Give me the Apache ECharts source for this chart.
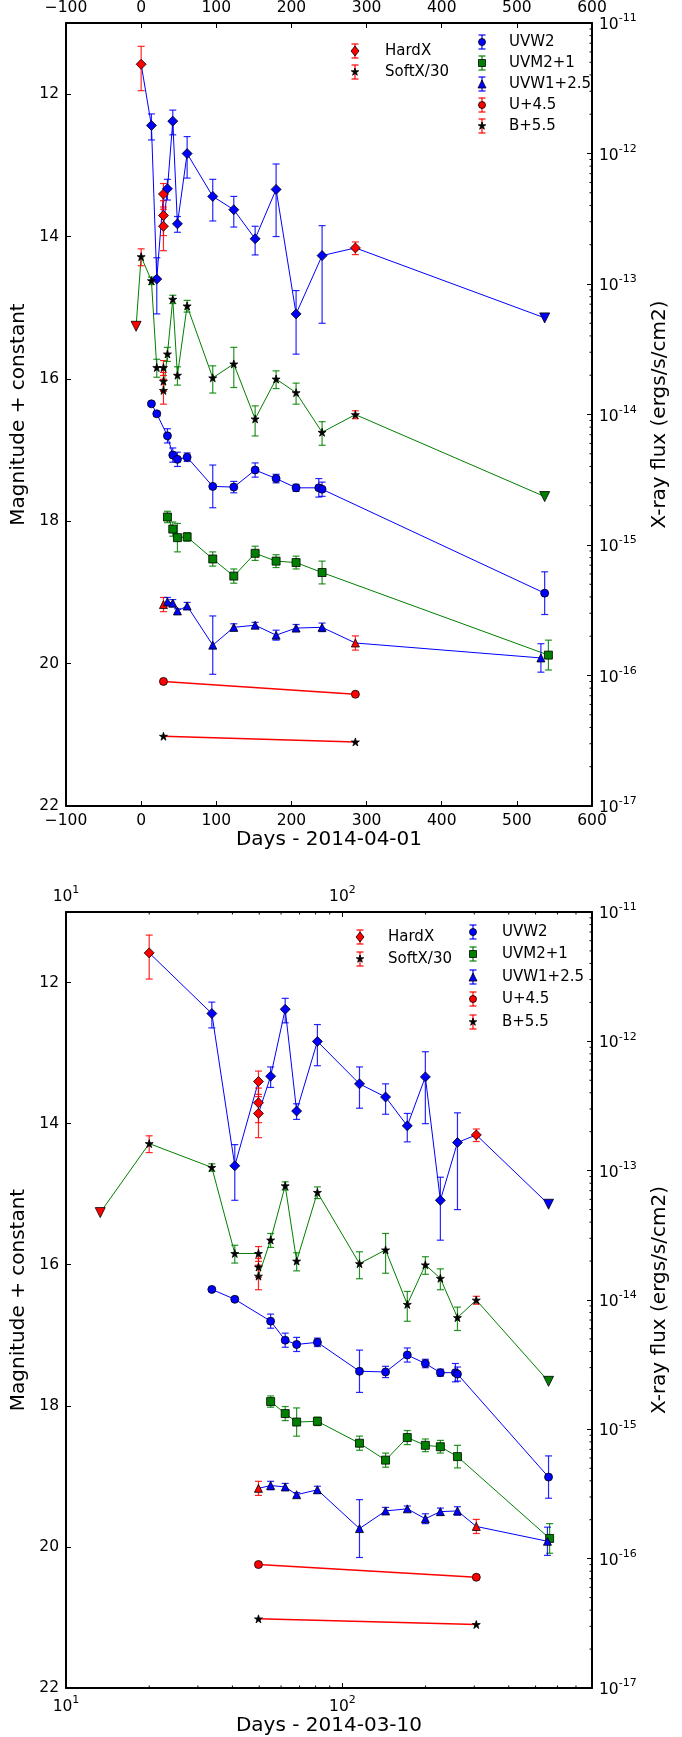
<!DOCTYPE html>
<html lang="en">
<head>
<meta charset="UTF-8">
<title>X-ray / UV light curves</title>
<script src="https://cdn.jsdelivr.net/npm/echarts@6.0.0/dist/echarts.min.js"></script>
<style>html,body{margin:0;padding:0;background:#fff;}</style>
</head>
<body>
<div id="main" style="width:682px;height:1737px;"></div>
<script>
// days are counted from 2014-04-01 (top panel); the lower panel counts from 2014-03-10
const DAY_SHIFT = 20;

// hard band X-ray flux (blue diamond line). H = HardX point, X = other, L = upper limit
const hardDay  = [0, 13.7, 20.8, 29.7, 29.7, 29.7, 35.0, 42.1, 48.3, 61.2, 95.3, 123.3, 151.7, 179.6, 206.2, 240.8, 285.1, 537];
const hardFlux = [4.83e-12, 1.64e-12, 1.09e-13, 4.89e-13, 3.35e-13, 2.77e-13, 5.37e-13, 1.77e-12, 2.89e-13, 9.98e-13, 4.69e-13, 3.71e-13, 2.22e-13, 5.31e-13, 5.9e-14, 1.65e-13, 1.89e-13, 5.5e-14];
const hardErr  = [1.8e-12, 3.7e-13, 5.0e-14, 1.0e-13, 1.0e-13, 9.7e-14, 9.7e-14, 3.8e-13, 4.0e-14, 3.5e-13, 1.65e-13, 9.8e-14, 5.5e-14, 3.0e-13, 3.0e-14, 1.15e-13, 2.1e-14, null];
const hardSrc  = ['H', 'X', 'X', 'H', 'H', 'H', 'X', 'X', 'X', 'X', 'X', 'X', 'X', 'X', 'X', 'X', 'H', 'L'];

// soft band X-ray flux / 30 (green star line). S = SoftX/30 point, R / L = upper limits
const softDay  = [-6.7, 0, 13.7, 20.8, 29.7, 29.7, 29.7, 35.0, 42.1, 48.3, 61.2, 95.3, 123.3, 151.7, 179.6, 206.2, 240.8, 285.1, 537];
const softFlux = [4.74e-14, 1.62e-13, 1.06e-13, 2.29e-14, 2.29e-14, 1.80e-14, 1.53e-14, 2.91e-14, 7.64e-14, 2.0e-14, 6.79e-14, 1.91e-14, 2.44e-14, 9.25e-15, 1.87e-14, 1.47e-14, 7.31e-15, 9.98e-15, 2.35e-15];
const softErr  = [null, 2.4e-14, 7e-15, 3.6e-15, 3.0e-15, 3.0e-15, 3.3e-15, 3.6e-15, 5.6e-15, 3.2e-15, 7e-15, 4.5e-15, 8.3e-15, 2.4e-15, 2.9e-15, 2.7e-15, 1.5e-15, 7e-16, null];
const softSrc  = ['R', 'S', 'X', 'X', 'S', 'S', 'S', 'X', 'X', 'X', 'X', 'X', 'X', 'X', 'X', 'X', 'X', 'S', 'L'];

// UV magnitudes
const uvw2Day = [13.7, 20.8, 35.0, 42.1, 48.3, 61.2, 95.3, 123.3, 151.7, 179.6, 206.2, 236.4, 240.8, 537];
const uvw2Mag = [16.35, 16.49, 16.80, 17.07, 17.13, 17.10, 17.51, 17.52, 17.28, 17.40, 17.53, 17.53, 17.55, 19.01];
const uvw2Err = [0.02, 0.03, 0.10, 0.10, 0.10, 0.06, 0.30, 0.08, 0.10, 0.06, 0.05, 0.13, 0.10, 0.30];

const uvm2Day = [35.0, 42.1, 48.3, 61.2, 95.3, 123.3, 151.7, 179.6, 206.2, 240.8, 542];
const uvm2Mag = [17.94, 18.11, 18.23, 18.22, 18.53, 18.77, 18.45, 18.56, 18.58, 18.72, 19.88];
const uvm2Err = [0.08, 0.10, 0.20, 0.06, 0.10, 0.10, 0.10, 0.09, 0.09, 0.16, 0.21];

const uvw1Day = [29.7, 35.0, 42.1, 48.3, 61.2, 95.3, 123.3, 151.7, 179.6, 206.2, 240.8, 285.1, 532];
const uvw1Mag = [19.17, 19.13, 19.15, 19.26, 19.19, 19.74, 19.49, 19.46, 19.60, 19.50, 19.49, 19.71, 19.92];
const uvw1Err = [0.10, 0.06, 0.05, 0.03, 0.05, 0.41, 0.05, 0.04, 0.07, 0.05, 0.06, 0.10, 0.20];
const uvw1Src = ['R', 'X', 'X', 'X', 'X', 'X', 'X', 'X', 'X', 'X', 'X', 'R', 'X'];

const uDay = [29.7, 285.1];
const uMag = [20.25, 20.43];
const bDay = [29.7, 285.1];
const bMag = [21.02, 21.10];

const legendA = ['HardX', 'SoftX/30'];
const legendB = ['UVW2', 'UVM2+1', 'UVW1+2.5', 'U+4.5', 'B+5.5'];

// minor tick positions for the log axes
const minorMult = [2, 3, 4, 5, 6, 7, 8, 9];
const fluxDecades = [1e-17, 1e-16, 1e-15, 1e-14, 1e-13, 1e-12];
const dayDecades = [10, 100];

const FONT = 'DejaVu Sans';
const BLUE = '#0000ff', GREEN = '#008000', RED = '#ff0000', BLACK = '#000000';
const STAR = 'path://M0,-10L2.245,-3.09L9.51,-3.09L3.633,1.18L5.88,8.09L0,3.82L-5.88,8.09L-3.633,1.18L-9.51,-3.09L-2.245,-3.09Z';

const KINDS = {
  hardH: {sym: 'diamond', size: 10, fill: RED, bar: RED},
  hardX: {sym: 'diamond', size: 10, fill: BLUE, bar: BLUE},
  limB:  {sym: 'triangle', size: 10, rot: 180, fill: BLUE},
  limG:  {sym: 'triangle', size: 10, rot: 180, fill: GREEN},
  limR:  {sym: 'triangle', size: 10, rot: 180, fill: RED},
  softS: {sym: STAR, size: 8, fill: BLACK, bar: RED},
  softX: {sym: STAR, size: 8, fill: BLACK, bar: GREEN},
  w2:    {sym: 'circle', size: 8, fill: BLUE, bar: BLUE},
  m2:    {sym: 'rect', size: 8, fill: GREEN, bar: GREEN},
  w1:    {sym: 'triangle', size: 8, fill: BLUE, bar: BLUE},
  w1R:   {sym: 'triangle', size: 8, fill: RED, bar: RED},
  u:     {sym: 'circle', size: 8, fill: RED, bar: RED},
  b:     {sym: STAR, size: 8, fill: BLACK, bar: RED}
};

const groups = [
  {day: hardDay, val: hardFlux, err: hardErr, flux: true, line: BLUE,
   kind: hardSrc.map(s => ({H: 'hardH', X: 'hardX', L: 'limB'})[s])},
  {day: softDay, val: softFlux, err: softErr, flux: true, line: GREEN,
   kind: softSrc.map(s => ({S: 'softS', X: 'softX', L: 'limG', R: 'limR'})[s])},
  {day: uvw2Day, val: uvw2Mag, err: uvw2Err, line: BLUE, kind: uvw2Day.map(() => 'w2')},
  {day: uvm2Day, val: uvm2Mag, err: uvm2Err, line: GREEN, kind: uvm2Day.map(() => 'm2')},
  {day: uvw1Day, val: uvw1Mag, err: uvw1Err, line: BLUE, kind: uvw1Src.map(s => s === 'R' ? 'w1R' : 'w1')},
  {day: uDay, val: uMag, err: null, line: RED, kind: uDay.map(() => 'u')},
  {day: bDay, val: bMag, err: null, line: RED, kind: bDay.map(() => 'b')}
];

const GRIDS = [
  {left: 66, top: 23, width: 526, height: 783},
  {left: 66, top: 912, width: 526, height: 776}
];

function minusFmt(v) { return v < 0 ? '\u2212' + (-v) : String(v); }
function powFmt(v) {
  const e = Math.log10(v), r = Math.round(e);
  if (Math.abs(e - r) > 1e-6) return '';
  return '{b|10}{s|' + r + '}';
}
const powRich = {
  b: {fontFamily: FONT, fontSize: 15.5, color: BLACK, lineHeight: 20, verticalAlign: 'bottom'},
  s: {fontFamily: FONT, fontSize: 11, color: BLACK, lineHeight: 20, verticalAlign: 'top'}
};
const axLine = {show: true, onZero: false, lineStyle: {color: BLACK, width: 2}};
const axTick = {show: true, inside: true, length: 5, lineStyle: {color: BLACK, width: 1}};
const nameStyle = {fontFamily: FONT, fontSize: 20, color: BLACK};
const labStyle = {fontFamily: FONT, fontSize: 15.5, color: BLACK};

const xAxes = [], yAxes = [], series = [];

[0, 1].forEach(p => {
  const isLog = p === 1;
  ['bottom', 'top'].forEach(pos => {
    const ax = {
      gridIndex: p, position: pos, axisLine: axLine, axisTick: axTick, splitLine: {show: false},
      axisLabel: {show: true, margin: 7, showMinLabel: true, showMaxLabel: true}
    };
    if (isLog) {
      Object.assign(ax, {type: 'log', logBase: 10, min: 10, max: 800});
      Object.assign(ax.axisLabel, {formatter: powFmt, rich: powRich});
    } else {
      Object.assign(ax, {type: 'value', min: -100, max: 600, interval: 100});
      Object.assign(ax.axisLabel, labStyle, {formatter: minusFmt});
    }
    if (pos === 'bottom') {
      Object.assign(ax, {name: isLog ? 'Days - 2014-03-10' : 'Days - 2014-04-01',
        nameLocation: 'middle', nameGap: isLog ? 27 : 24, nameTextStyle: nameStyle});
    }
    xAxes.push(ax);
  });
  yAxes.push({
    type: 'value', gridIndex: p, position: 'left', inverse: true, min: 11, max: 22, splitNumber: 5,
    axisLine: axLine, axisTick: axTick, splitLine: {show: false},
    axisLabel: Object.assign({margin: 7, showMinLabel: false, showMaxLabel: true}, labStyle),
    name: 'Magnitude + constant', nameLocation: 'middle', nameRotate: 90, nameGap: 26, nameTextStyle: nameStyle
  });
  yAxes.push({
    type: 'log', logBase: 10, gridIndex: p, position: 'right', min: 1e-17, max: 1e-11,
    axisLine: axLine, axisTick: axTick, splitLine: {show: false},
    axisLabel: {margin: 7, formatter: powFmt, rich: powRich, showMinLabel: true, showMaxLabel: true},
    name: 'X-ray flux (ergs/s/cm2)', nameLocation: 'middle', nameRotate: 90, nameGap: 58, nameTextStyle: nameStyle
  });

  const xi = p * 2;
  groups.forEach((g, gi) => {
    const yi = p * 2 + (g.flux ? 1 : 0);
    const xs = g.day.map(d => p ? d + DAY_SHIFT : d);
    const base = {xAxisIndex: xi, yAxisIndex: yi, animation: false, silent: true};
    series.push(Object.assign({}, base, {
      type: 'line', data: xs.map((x, i) => [x, g.val[i]]), symbol: 'none',
      lineStyle: {color: g.line, width: g.line === RED ? 1.5 : 1}, z: 2 + gi * 0.01
    }));
    if (g.err) {
      const bars = [];
      xs.forEach((x, i) => {
        if (g.err[i] == null) return;
        bars.push({value: [x, g.val[i] - g.err[i], g.val[i] + g.err[i]],
          itemStyle: {color: KINDS[g.kind[i]].bar}});
      });
      series.push(Object.assign({}, base, {
        type: 'custom', data: bars, encode: {x: 0, y: [1, 2]}, z: 3 + gi * 0.01,
        renderItem: (params, api) => {
          const x = api.value(0);
          const a = api.coord([x, api.value(1)]);
          const b = api.coord([x, api.value(2)]);
          const col = api.visual('color');
          const c = 3.5, st = {stroke: col, lineWidth: 1.2, opacity: 0.85};
          return {type: 'group', children: [
            {type: 'line', shape: {x1: a[0], y1: a[1], x2: b[0], y2: b[1]}, style: st},
            {type: 'line', shape: {x1: a[0] - c, y1: a[1], x2: a[0] + c, y2: a[1]}, style: st},
            {type: 'line', shape: {x1: b[0] - c, y1: b[1], x2: b[0] + c, y2: b[1]}, style: st}
          ]};
        }
      }));
    }
    series.push(Object.assign({}, base, {
      type: 'scatter', z: 4 + gi * 0.01,
      data: xs.map((x, i) => {
        const k = KINDS[g.kind[i]];
        return {value: [x, g.val[i]], symbol: k.sym, symbolSize: k.size, symbolRotate: k.rot || 0,
          itemStyle: {color: k.fill, borderColor: BLACK, borderWidth: 0.8, opacity: 1}};
      })
    }));
  });

  // minor ticks of the right log axis
  const fluxMinor = [];
  fluxDecades.forEach(d => minorMult.forEach(m => fluxMinor.push([p ? 100 : 250, m * d])));
  series.push({
    type: 'custom', xAxisIndex: xi, yAxisIndex: p * 2 + 1, data: fluxMinor, silent: true, animation: false, z: 5,
    renderItem: (params, api) => {
      const cs = params.coordSys;
      const pt = api.coord([api.value(0), api.value(1)]);
      const xr = cs.x + cs.width;
      return {type: 'line', shape: {x1: xr - 2.5, y1: pt[1], x2: xr, y2: pt[1]}, style: {stroke: BLACK, lineWidth: 1}};
    }
  });
  // minor ticks of the log day axis (top and bottom edges)
  if (isLog) {
    const dayMinor = [];
    dayDecades.forEach(d => minorMult.forEach(m => { if (m * d < 800) dayMinor.push([m * d, 15]); }));
    series.push({
      type: 'custom', xAxisIndex: xi, yAxisIndex: p * 2, data: dayMinor,
      silent: true, animation: false, z: 5,
      renderItem: (params, api) => {
        const cs = params.coordSys;
        const pt = api.coord([api.value(0), api.value(1)]);
        const st = {stroke: BLACK, lineWidth: 1};
        return {type: 'group', children: [
          {type: 'line', shape: {x1: pt[0], y1: cs.y, x2: pt[0], y2: cs.y + 2.5}, style: st},
          {type: 'line', shape: {x1: pt[0], y1: cs.y + cs.height - 2.5, x2: pt[0], y2: cs.y + cs.height}, style: st}
        ]};
      }
    });
  }
});

// legend, drawn as graphic elements (error bar + marker + label)
function markerEl(k, cx, cy) {
  const h = k.size / 2;
  const st = {fill: k.fill, stroke: BLACK, lineWidth: 0.8};
  if (k.sym === 'circle') return {type: 'circle', shape: {cx: cx, cy: cy, r: h - 0.5}, style: st};
  if (k.sym === 'rect') return {type: 'rect', shape: {x: cx - h + 0.5, y: cy - h + 0.5, width: 2 * h - 1, height: 2 * h - 1}, style: st};
  let pts;
  if (k.sym === 'diamond') pts = [[cx, cy - h], [cx + h * 0.8, cy], [cx, cy + h], [cx - h * 0.8, cy]];
  else if (k.sym === 'triangle') pts = [[cx, cy - h], [cx + h, cy + h], [cx - h, cy + h]];
  else {
    pts = [];
    for (let i = 0; i < 10; i++) {
      const r = (i % 2 ? 0.382 : 1) * h, a = -Math.PI / 2 + i * Math.PI / 5;
      pts.push([cx + r * Math.cos(a), cy + r * Math.sin(a)]);
    }
  }
  return {type: 'polygon', shape: {points: pts}, style: st};
}
function legendEls(names, kinds, mx, tx, ys) {
  const els = [];
  names.forEach((n, i) => {
    const k = KINDS[kinds[i]], y = ys[i];
    const st = {stroke: k.bar, lineWidth: 1.2};
    els.push({type: 'line', shape: {x1: mx, y1: y - 7, x2: mx, y2: y + 7}, style: st, z: 10});
    els.push({type: 'line', shape: {x1: mx - 3.5, y1: y - 7, x2: mx + 3.5, y2: y - 7}, style: st, z: 10});
    els.push({type: 'line', shape: {x1: mx - 3.5, y1: y + 7, x2: mx + 3.5, y2: y + 7}, style: st, z: 10});
    els.push(Object.assign(markerEl(k, mx, y), {z: 11}));
    els.push({type: 'text', x: tx, y: y, z: 11,
      style: {text: n, fill: BLACK, font: '15px "DejaVu Sans"', verticalAlign: 'middle', textVerticalAlign: 'middle'}});
  });
  return els;
}
const kindsA = ['hardH', 'softS'];
const kindsB = ['w2', 'm2', 'w1', 'u', 'b'];
const graphics = [].concat(
  legendEls(legendA, kindsA, 355, 385, [51, 72]),
  legendEls(legendB, kindsB, 482, 509, [42, 63, 84, 105, 126]),
  legendEls(legendA, kindsA, 360, 388, [937, 959]),
  legendEls(legendB, kindsB, 473, 502, [932, 954, 977, 999, 1022])
);

const chart = echarts.init(document.getElementById('main'), null, {renderer: 'canvas'});
chart.setOption({
  animation: false,
  backgroundColor: '#ffffff',
  textStyle: {fontFamily: FONT},
  grid: GRIDS.map(g => Object.assign({containLabel: false, show: false}, g)),
  xAxis: xAxes,
  yAxis: yAxes,
  series: series,
  graphic: {elements: graphics}
});
</script>
</body>
</html>
